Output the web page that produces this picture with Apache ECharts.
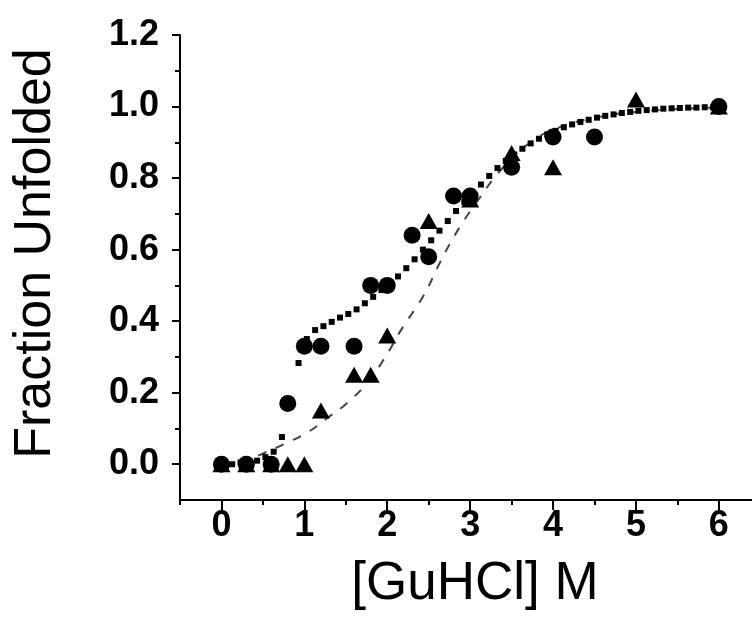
<!DOCTYPE html>
<html>
<head>
<meta charset="utf-8">
<script src="https://cdn.jsdelivr.net/npm/echarts@6/dist/echarts.min.js"></script>
<style>
  html, body { margin: 0; padding: 0; background: #fff; }
  #chart { width: 752px; height: 629px; }
</style>
</head>
<body>
<div id="chart"></div>
<script>
// circles (first data set)
var circleX = [0, 0.3, 0.6, 0.8, 1.0, 1.2, 1.6, 1.8, 2.0, 2.3, 2.5, 2.8, 3.0, 3.5, 4.0, 4.5, 6.0];
var circleY = [0, 0, 0, 0.17, 0.33, 0.33, 0.33, 0.5, 0.5, 0.64, 0.58, 0.75, 0.75, 0.83, 0.915, 0.915, 1.0];
// triangles (second data set)
var triX = [0, 0.3, 0.6, 0.8, 1.0, 1.2, 1.6, 1.8, 2.0, 2.5, 3.0, 3.5, 4.0, 5.0, 6.0];
var triY = [0, 0, 0, 0, 0, 0.15, 0.25, 0.25, 0.36, 0.68, 0.74, 0.87, 0.83, 1.02, 1.0];
// dotted fit, drawn as small squares
var dotX = [0.03, 0.13, 0.23, 0.33, 0.43, 0.53, 0.63, 0.73, 0.83, 0.93, 1.03, 1.13, 1.23, 1.33, 1.43, 1.53, 1.63, 1.73, 1.83, 1.93,
            2.03, 2.13, 2.23, 2.33, 2.43, 2.53, 2.63, 2.73, 2.83, 2.93, 3.03, 3.13, 3.23, 3.33, 3.43, 3.53, 3.63, 3.73, 3.83, 3.93,
            4.03, 4.13, 4.23, 4.33, 4.43, 4.53, 4.63, 4.73, 4.83, 4.93, 5.03, 5.13, 5.23, 5.33, 5.43, 5.53, 5.63, 5.73, 5.83, 5.93];
var dotY = [0, 0, 0.005, 0.005, 0.01, 0.02, 0.035, 0.076, 0.18, 0.283, 0.35, 0.375, 0.386, 0.398, 0.41, 0.42, 0.433, 0.45, 0.468, 0.487,
            0.505, 0.525, 0.548, 0.573, 0.6, 0.626, 0.653, 0.68, 0.708, 0.733, 0.757, 0.782, 0.806, 0.828, 0.848, 0.866, 0.882, 0.897, 0.91, 0.922,
            0.932, 0.942, 0.95, 0.957, 0.963, 0.969, 0.974, 0.978, 0.982, 0.985, 0.988, 0.99, 0.992, 0.994, 0.995, 0.996, 0.997, 0.997, 0.998, 0.998];
// dashed fit
var dashX = [0, 0.3, 0.55, 0.77, 1.03, 1.27, 1.51, 1.75, 1.95, 2.19, 2.43, 2.63, 2.77, 2.93, 3.11, 3.27, 3.5, 3.7, 4.0, 4.5, 5.0, 5.5, 6.0];
var dashY = [0, 0.012, 0.035, 0.058, 0.088, 0.128, 0.17, 0.226, 0.29, 0.384, 0.468, 0.561, 0.622, 0.683, 0.743, 0.794, 0.855, 0.895, 0.935, 0.968, 0.985, 0.993, 0.997];
// ticks
var xMajor = [0, 1, 2, 3, 4, 5, 6];
var xMinor = [-0.5, 0.5, 1.5, 2.5, 3.5, 4.5, 5.5];
var yMajor = [0, 0.2, 0.4, 0.6, 0.8, 1.0, 1.2];
var yMinor = [0.1, 0.3, 0.5, 0.7, 0.9, 1.1];

function pairs(xs, ys) {
    return xs.map(function (x, i) { return [x, ys[i]]; });
}

var chart = echarts.init(document.getElementById('chart'));
var font = 'Liberation Sans, Arial, sans-serif';

var option = {
    animation: false,
    backgroundColor: '#fff',
    grid: { left: 180, right: 0, top: 35, bottom: 129 },
    xAxis: [
        {
            type: 'value', min: -0.5, max: 6.4,
            name: '[GuHCl] M', nameLocation: 'middle', nameGap: 58,
            nameTextStyle: { fontFamily: font, fontSize: 53, color: '#000', padding: [0, 0, 0, 18] },
            axisLine: { onZero: false, lineStyle: { color: '#000', width: 2 } },
            axisTick: { customValues: xMajor, length: 10, lineStyle: { color: '#000', width: 2 } },
            axisLabel: {
                customValues: xMajor, margin: 8, color: '#000',
                fontFamily: font, fontSize: 36, fontWeight: 'bold'
            },
            splitLine: { show: false }
        },
        {
            type: 'value', min: -0.5, max: 6.4, position: 'bottom',
            axisLine: { show: false, onZero: false },
            axisTick: { customValues: xMinor, length: 5, lineStyle: { color: '#000', width: 2 } },
            axisLabel: { show: false },
            splitLine: { show: false }
        }
    ],
    yAxis: [
        {
            type: 'value', min: -0.1, max: 1.2,
            name: 'Fraction Unfolded', nameLocation: 'middle', nameGap: 118,
            nameTextStyle: { fontFamily: font, fontSize: 52, color: '#000', padding: [0, 0, 0, 28] },
            axisLine: { onZero: false, lineStyle: { color: '#000', width: 2 } },
            axisTick: { customValues: yMajor, length: 8, lineStyle: { color: '#000', width: 2 } },
            axisLabel: {
                customValues: yMajor, margin: 21, color: '#000',
                fontFamily: font, fontSize: 36, fontWeight: 'bold',
                formatter: function (v) { return v.toFixed(1); }
            },
            splitLine: { show: false }
        },
        {
            type: 'value', min: -0.1, max: 1.2, position: 'left',
            axisLine: { show: false, onZero: false },
            axisTick: { customValues: yMinor, length: 5, lineStyle: { color: '#000', width: 2 } },
            axisLabel: { show: false },
            splitLine: { show: false }
        }
    ],
    series: [
        {
            type: 'line', data: pairs(dashX, dashY), smooth: true, showSymbol: false,
            lineStyle: { color: '#444', width: 2, type: [9, 10] }, z: 2
        },
        {
            type: 'scatter', data: pairs(dotX, dotY), symbol: 'rect', symbolSize: 6,
            itemStyle: { color: '#000', opacity: 1 }, z: 3
        },
        {
            type: 'scatter', data: pairs(triX, triY), symbol: 'triangle', symbolSize: [18, 16],
            itemStyle: { color: '#000', opacity: 1 }, z: 4
        },
        {
            type: 'scatter', data: pairs(circleX, circleY), symbol: 'circle', symbolSize: 17,
            itemStyle: { color: '#000', opacity: 1 }, z: 5
        }
    ]
};

chart.setOption(option);
</script>
</body>
</html>
